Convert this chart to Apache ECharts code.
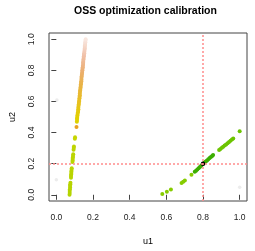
<!DOCTYPE html>
<html><head><meta charset="utf-8">
<script src="https://cdn.jsdelivr.net/npm/echarts@6/dist/echarts.min.js"></script>
<style>html,body{margin:0;padding:0;background:#fff}#c{width:255px;height:251px}</style>
</head><body><div id="c"></div>
<script>
const titleText = "OSS optimization calibration";
const xName = "u1", yName = "u2";
const tickValues = [0, 0.2, 0.4, 0.6, 0.8, 1.0];
const refX = 0.8, refY = 0.2;

// left streak, coloured by u2 (yellow-green -> yellow -> orange -> pale salmon)
const leftStreak = [
 [0.072,0.000],[0.073,0.012],[0.073,0.025],[0.074,0.035],[0.075,0.047],[0.075,0.058],[0.076,0.068],[0.077,0.078],
 [0.080,0.110],[0.080,0.120],[0.081,0.130],[0.082,0.140],[0.082,0.150],[0.083,0.160],[0.084,0.170],
 [0.088,0.210],[0.089,0.220],[0.089,0.230],[0.090,0.240],[0.091,0.250],[0.092,0.260],
 [0.094,0.290],[0.095,0.300],[0.096,0.310],
 [0.101,0.360],[0.102,0.370],
 [0.112,0.470],[0.113,0.480],[0.113,0.490],[0.114,0.500],[0.115,0.510],[0.116,0.520],
 [0.118,0.530],[0.119,0.540],[0.120,0.550],[0.120,0.560],[0.121,0.570],[0.122,0.580],[0.123,0.590],[0.124,0.600],
 [0.125,0.610],[0.126,0.620],[0.127,0.630],[0.128,0.640],[0.128,0.650],[0.129,0.660],[0.130,0.670],[0.131,0.680],
 [0.132,0.690],[0.133,0.700],[0.134,0.710],[0.135,0.720],[0.136,0.730],[0.137,0.740],[0.137,0.750],[0.138,0.760],
 [0.139,0.770],[0.140,0.780],[0.141,0.790],[0.142,0.800],[0.143,0.810],[0.144,0.820],[0.145,0.830],[0.146,0.840],
 [0.146,0.850],[0.147,0.860],[0.148,0.870],[0.149,0.880],[0.150,0.890],[0.151,0.900],[0.152,0.910],[0.153,0.920],
 [0.154,0.930],[0.155,0.940],[0.155,0.950],[0.156,0.960],[0.157,0.970],[0.158,0.980],[0.159,0.990],[0.160,1.000]
];
const leftOutlier = [[0.110,0.436]];

const rightLight = [[0.578,0.005],[0.603,0.020],[0.625,0.034],[0.683,0.076],[0.692,0.083],[0.701,0.092],[0.737,0.128]];
const rightDark = [[0.755,0.148],[0.762,0.155],[0.769,0.162],[0.776,0.170],[0.783,0.178],[0.790,0.186],[0.797,0.194],
 [0.808,0.207],[0.815,0.214],[0.822,0.221],[0.829,0.229],[0.836,0.236],[0.843,0.243],[0.850,0.250],[0.855,0.255]];
const rightUpper = [[0.888,0.288],[0.895,0.295],[0.903,0.302],[0.910,0.309],[0.918,0.316],[0.926,0.324],[0.934,0.332],
 [0.942,0.340],[0.950,0.348],[0.958,0.355],[0.965,0.362],[1.000,0.408]];
const bestPoint = [[0.8,0.2]];
const faintPoints = [[0.003,0.61],[0.0,0.097],[1.0,0.049]];

const chart = echarts.init(document.getElementById('c'), null, {renderer:'canvas'});
const font = 'Liberation Sans, Arial, Helvetica, sans-serif';
const fmt = v => v.toFixed(1);
const refColor = '#ff8c8c';
function sc(data, color, size, z){
  return {type:'scatter', data, symbolSize:size, itemStyle:{color, opacity:1}, z: z||2, silent:true, animation:false};
}
chart.setOption({
  animation:false,
  title:{text:titleText, left:74, top:6, padding:0, textStyle:{fontFamily:font, fontSize:10.5, fontWeight:'bold', color:'#000'}},
  grid:{left:44, top:33, width:203, height:169, show:true, borderColor:'#444', borderWidth:1, backgroundColor:'transparent'},
  xAxis:{type:'value', min:-0.04, max:1.04, name:xName, nameLocation:'middle', nameGap:36,
    nameTextStyle:{fontFamily:font, fontSize:9, color:'#000'},
    splitLine:{show:false}, axisLine:{show:false},
    axisTick:{show:true, length:5, inside:false, customValues:tickValues, lineStyle:{color:'#444'}},
    axisLabel:{customValues:tickValues, formatter:fmt, margin:12, fontFamily:font, fontSize:8.5, color:'#222'}},
  yAxis:{type:'value', min:-0.04, max:1.04, name:yName, nameLocation:'middle', nameGap:32, nameRotate:90,
    nameTextStyle:{fontFamily:font, fontSize:9, color:'#000'},
    splitLine:{show:false}, axisLine:{show:false},
    axisTick:{show:true, length:5, inside:false, customValues:tickValues, lineStyle:{color:'#444'}},
    axisLabel:{customValues:tickValues, formatter:fmt, margin:13, rotate:90, fontFamily:font, fontSize:8.5, color:'#222'}},
  visualMap:[{type:'continuous', show:false, seriesIndex:0, dimension:1, min:0, max:1,
    inRange:{color:['#b4d400','#b8d400','#bad500','#bed500','#cbd500','#e2d000','#e8c020','#e9b440','#ebae70','#f0c0a8','#f8e6de']}}],
  series:[
    sc(leftStreak, '#b8d400', 4, 3),
    sc(faintPoints, '#ececec', 3.5, 2),
    sc(leftOutlier, '#e8a020', 4, 3),
    sc(rightLight, '#86cc00', 4, 3),
    sc(rightUpper, '#6cc400', 4, 3),
    sc(rightDark, '#3cae00', 4, 3),
    {type:'line', data:[], z:1, silent:true, showSymbol:false,
     lineStyle:{color:refColor}, itemStyle:{color:refColor},
     markLine:{silent:true, symbol:['none','none'], animation:false, label:{show:false},
       lineStyle:{color:refColor, type:[2,2], width:1.5, opacity:1},
       data:[{xAxis:refX},{yAxis:refY}]}},
    sc(bestPoint, '#000000', 4.5, 4)
  ]
});
</script></body></html>
